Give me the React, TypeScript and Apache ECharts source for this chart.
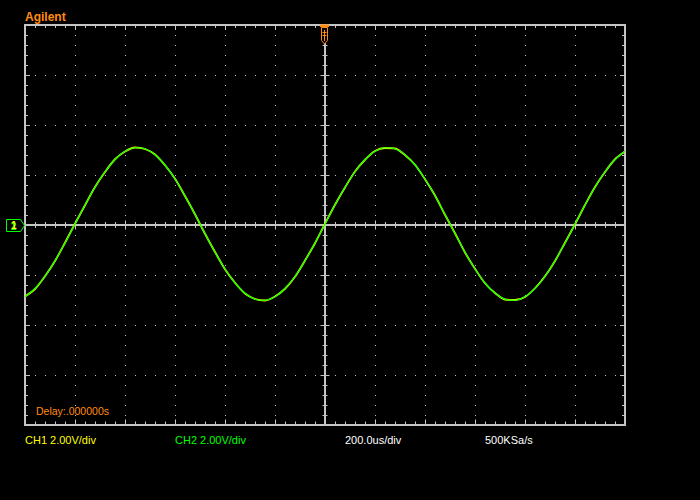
import { useEffect, useRef } from 'react';
import * as echarts from 'echarts';

// Screen scale: 12 horizontal divisions x 200 us, 8 vertical divisions x 2 V
const T_MIN = -1200;
const T_MAX = 1200;
const T_DIV = 200;
const V_MIN = -8;
const V_MAX = 8;
const V_DIV = 2;
const SAMPLE_STEP_US = 40;

// Readings of the traces (volts), one every 40 us from -1200 us
const ch1Values = [
  -2.86, -2.56, -2.05, -1.44, -0.71, 0.05, 0.79, 1.52, 2.12, 2.63, 2.94, 3.10, 3.04,
  2.82, 2.39, 1.85, 1.16, 0.43, -0.35, -1.08, -1.77, -2.31, -2.74, -2.96, -3.02,
  -2.86, -2.55, -2.07, -1.42, -0.73, 0.05, 0.81, 1.50, 2.14, 2.61, 2.96, 3.08, 3.06,
  2.80, 2.41, 1.83, 1.18, 0.41, -0.33, -1.10, -1.75, -2.33, -2.72, -2.98, -3.00,
  -2.88, -2.53, -2.05, -1.44, -0.71, 0.03, 0.80, 1.52, 2.12, 2.63, 2.94,
];
const ch2Values = [
  -2.87, -2.54, -2.06, -1.43, -0.72, 0.04, 0.80, 1.51, 2.13, 2.62, 2.95, 3.09, 3.05,
  2.81, 2.40, 1.84, 1.17, 0.42, -0.34, -1.09, -1.76, -2.32, -2.73, -2.97, -3.01,
  -2.87, -2.54, -2.06, -1.43, -0.72, 0.04, 0.80, 1.51, 2.13, 2.62, 2.95, 3.09, 3.05,
  2.81, 2.40, 1.84, 1.17, 0.42, -0.34, -1.09, -1.76, -2.32, -2.73, -2.97, -3.01,
  -2.87, -2.54, -2.06, -1.43, -0.72, 0.04, 0.80, 1.51, 2.13, 2.62, 2.95,
];

const brandLabel = 'Agilent';
const delayLabel = 'Delay:.000000s';
const footerLabels = ['CH1 2.00V/div', 'CH2 2.00V/div', '200.0us/div', '500KSa/s'];
const footerX = [25, 175, 345, 485];
const YELLOW = '#ffff00';
const GREEN = '#00ff00';
const WHITE = '#ffffff';
const ORANGE = '#ff8c10';
const footerColors = [YELLOW, GREEN, WHITE, WHITE];
const GRAY = '#c4c4c4';
const FONT = '"Liberation Sans", Arial, sans-serif';

export default function App() {
  const ref = useRef<HTMLDivElement>(null);

  useEffect(() => {
    document.body.style.margin = '0';
    document.body.style.background = '#000';
    const chart = echarts.init(ref.current!, null, { renderer: 'svg', width: 700, height: 500 });

    const times = ch2Values.map((_, i) => T_MIN + i * SAMPLE_STEP_US);

    const xBase: any = {
      type: 'value',
      min: T_MIN,
      max: T_MAX,
      interval: T_DIV,
      axisLabel: { show: false },
      splitLine: { show: false },
    };
    const yBase: any = {
      type: 'value',
      min: V_MIN,
      max: V_MAX,
      interval: V_DIV,
      axisLabel: { show: false },
      splitLine: { show: false },
    };
    const tick = (len: number) => ({ show: true, length: len, lineStyle: { color: GRAY, width: 1 } });
    const minor = (len: number) => ({ show: true, splitNumber: 5, length: len, lineStyle: { color: GRAY, width: 1 } });
    const dotted = { show: true, lineStyle: { color: GRAY, width: 1, type: [1, 9], dashOffset: 0 } };

    const textEl = (text: string, x: number, y: number, color: string, size: number, bold = false) => ({
      type: 'text',
      z: 100,
      style: {
        text,
        x,
        y,
        fill: color,
        font: `${bold ? 'bold ' : ''}${size}px ${FONT}`,
        textAlign: 'left',
        align: 'left',
        textVerticalAlign: 'middle',
        verticalAlign: 'middle',
      },
    });

    const option: any = {
      animation: false,
      backgroundColor: '#000000',
      grid: {
        left: 25,
        top: 25,
        width: 600,
        height: 400,
        show: true,
        borderColor: GRAY,
        borderWidth: 2,
        backgroundColor: 'transparent',
        containLabel: false,
        outerBoundsMode: 'none',
      },
      xAxis: [
        {
          ...xBase,
          position: 'bottom',
          axisLine: { show: false, onZero: false },
          axisTick: { ...tick(5.5), inside: true },
          minorTick: minor(3.5),
          splitLine: dotted,
        },
        {
          ...xBase,
          position: 'top',
          axisLine: { show: false, onZero: false },
          axisTick: { ...tick(5), inside: true },
          minorTick: minor(3),
        },
        {
          ...xBase,
          position: 'bottom',
          axisLine: { show: true, onZero: true, onZeroAxisIndex: 0, lineStyle: { color: GRAY, width: 2 } },
          axisTick: { ...tick(4.5), inside: true },
          minorTick: minor(3),
        },
        {
          ...xBase,
          position: 'bottom',
          axisLine: { show: true, onZero: true, onZeroAxisIndex: 0, lineStyle: { color: GRAY, width: 2 } },
          axisTick: { ...tick(4.5), inside: false },
          minorTick: minor(3),
        },
      ],
      yAxis: [
        {
          ...yBase,
          position: 'left',
          axisLine: { show: false, onZero: false },
          axisTick: { ...tick(5), inside: true },
          minorTick: minor(3),
          splitLine: dotted,
        },
        {
          ...yBase,
          position: 'right',
          axisLine: { show: false, onZero: false },
          axisTick: { ...tick(5), inside: true },
          minorTick: minor(3),
        },
        {
          ...yBase,
          position: 'left',
          axisLine: { show: true, onZero: true, onZeroAxisIndex: 0, lineStyle: { color: GRAY, width: 2 } },
          axisTick: { ...tick(4.5), inside: true },
          minorTick: minor(2.5),
        },
        {
          ...yBase,
          position: 'left',
          axisLine: { show: true, onZero: true, onZeroAxisIndex: 0, lineStyle: { color: GRAY, width: 2 } },
          axisTick: { ...tick(4.5), inside: false },
          minorTick: minor(2.5),
        },
      ],
      series: [
        {
          name: 'CH1',
          type: 'line',
          xAxisIndex: 0,
          yAxisIndex: 0,
          data: times.map((t, i) => [t, ch1Values[i]]),
          symbol: 'none',
          showSymbol: false,
          smooth: 0.3,
          lineStyle: { color: YELLOW, width: 1.8 },
          z: 3,
        },
        {
          name: 'CH2',
          type: 'line',
          xAxisIndex: 0,
          yAxisIndex: 0,
          data: times.map((t, i) => [t, ch2Values[i]]),
          symbol: 'none',
          showSymbol: false,
          smooth: 0.3,
          lineStyle: { color: GREEN, width: 1.2 },
          z: 4,
        },
      ],
      graphic: [
        textEl(brandLabel, 25, 17, ORANGE, 12, true),
        textEl(delayLabel, 36, 411, ORANGE, 10.5),
        ...footerLabels.map((t, i) => textEl(t, footerX[i], 440, footerColors[i], 11)),
        // trigger marker (top)
        {
          type: 'rect',
          z: 100,
          shape: { x: 320, y: 24.5, width: 9, height: 2.5 },
          style: { fill: ORANGE },
        },
        {
          type: 'polygon',
          z: 100,
          shape: { points: [[321.5, 27.5], [327.5, 27.5], [327.5, 40.5], [324.5, 44], [321.5, 40.5]] },
          style: { fill: '#000', stroke: ORANGE, lineWidth: 1 },
        },
        {
          type: 'line',
          z: 101,
          shape: { x1: 324.5, y1: 30, x2: 324.5, y2: 41 },
          style: { stroke: ORANGE, lineWidth: 1 },
        },
        {
          type: 'line',
          z: 101,
          shape: { x1: 322.5, y1: 32.5, x2: 326.5, y2: 32.5 },
          style: { stroke: ORANGE, lineWidth: 1 },
        },
        {
          type: 'line',
          z: 101,
          shape: { x1: 322.5, y1: 35.5, x2: 326.5, y2: 35.5 },
          style: { stroke: ORANGE, lineWidth: 1 },
        },
        // ground marker (left)
        {
          type: 'polygon',
          z: 100,
          shape: { points: [[6.5, 219.5], [20.5, 219.5], [24.5, 225.5], [20.5, 231.5], [6.5, 231.5]] },
          style: { fill: '#000', stroke: GREEN, lineWidth: 1 },
        },
        {
          type: 'text',
          z: 101,
          style: {
            text: '2', x: 11, y: 226, fill: GREEN, font: `bold 10px ${FONT}`,
            textAlign: 'left', align: 'left', textVerticalAlign: 'middle', verticalAlign: 'middle',
          },
        },
        {
          type: 'text',
          z: 102,
          style: {
            text: '1', x: 11, y: 225, fill: YELLOW, font: `bold 10px ${FONT}`,
            textAlign: 'left', align: 'left', textVerticalAlign: 'middle', verticalAlign: 'middle',
          },
        },
      ],
    };

    chart.setOption(option);
    return () => chart.dispose();
  }, []);

  return (
    <div
      ref={ref}
      style={{ position: 'fixed', left: 0, top: 0, width: 700, height: 500, background: '#000' }}
    />
  );
}
